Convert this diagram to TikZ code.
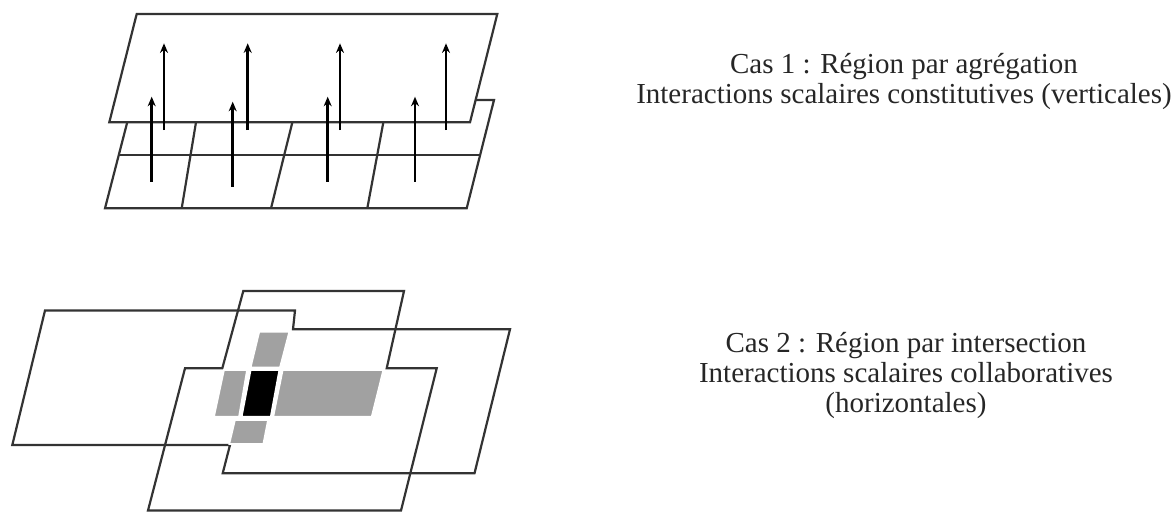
\documentclass[tikz,border=0pt]{standalone}
\usepackage{fontspec}
\setmainfont{Liberation Serif}
\usetikzlibrary{arrows.meta}
\definecolor{edgegray}{gray}{0.2}
\definecolor{cellgray}{gray}{0.63}
\begin{document}
\begin{tikzpicture}[
			x=0.5pt, y=-0.5pt,
			>={Stealth[length=4.8pt,width=4pt]},
			plane/.style   = {draw=edgegray, line width=1.1pt, line join=miter},
			vec/.style     = {->, line width=1.4pt, black},
			cell/.style    = {fill=cellgray, draw=white, line width=0.8pt},
			caption/.style = {align=center, inner sep=0pt, text=black!85,
			                  font=\fontsize{14.5}{15}\selectfont}
			]
			\useasboundingbox (0,0) rectangle (1174,511);
			
			%--- case 1: lower plane and its cells ---
			\draw[plane] (133,100) -- (494,100) -- (466.7,208.3) -- (105,208.3) -- cycle;
			\draw[plane] (118.3,155) -- (480,155);
			\draw[plane] (199.7,100) -- (181.7,208.3);
			\draw[plane] (297.9,100) -- (271,208.3);
			\draw[plane] (387.5,100) -- (367.3,208.3);
			
			%--- case 1: upper plane ---
			\filldraw[plane, fill=white] (136.7,14) -- (497.3,14) -- (470,122.3) -- (109.3,122.3) -- cycle;
			
			%--- vertical interactions ---
			\foreach \px/\dy in {151.7/0, 232.7/5, 327.7/0, 415/0}
				\draw[vec] (\px,181.7+\dy) -- (\px,96.7+\dy);
			\foreach \px in {164, 247.7, 340, 446}
				\draw[vec] (\px,130) -- (\px,43.3);
			
			%--- case 2: outlines of the overlapping planes ---
			\draw[plane] (45,310.5) -- (295,310.5) -- (293,329.3) -- (510,329.3) -- (474.5,473.3)
				-- (222.7,473.3) -- (230,445) -- (12.3,445) -- cycle;
			\draw[plane] (243.3,291) -- (404,291) -- (386.7,368.3) -- (436.7,368.3) -- (401,510.5)
				-- (148,510.5) -- (185,368.3) -- (222.3,368.3) -- cycle;
			
			%--- case 2: intersection cells ---
			\filldraw[cell] (259.3,331.7) -- (289.3,331.7) -- (280,367.3) -- (250.7,367.3) -- cycle;
			\filldraw[cell] (224,370) -- (247,370) -- (239,416.7) -- (214,416.7) -- cycle;
			\filldraw[cell, fill=black] (250.7,370) -- (279.3,370) -- (270.7,416.7) -- (241.7,416.7) -- cycle;
			\filldraw[cell] (282.7,370) -- (383.3,370) -- (371.7,416.7) -- (273.3,416.7) -- cycle;
			\filldraw[cell] (235,420) -- (268,420) -- (263.3,444) -- (229.3,444) -- cycle;
			
			%--- captions ---
			\node[caption] (cas1) at (904,81)
				{Cas 1 : Région par agrégation\\Interactions scalaires constitutives (verticales)};
			\node[caption] (cas2) at (906,375)
				{Cas 2 : Région par intersection\\Interactions scalaires collaboratives\\(horizontales)};
		\end{tikzpicture}
\end{document}
